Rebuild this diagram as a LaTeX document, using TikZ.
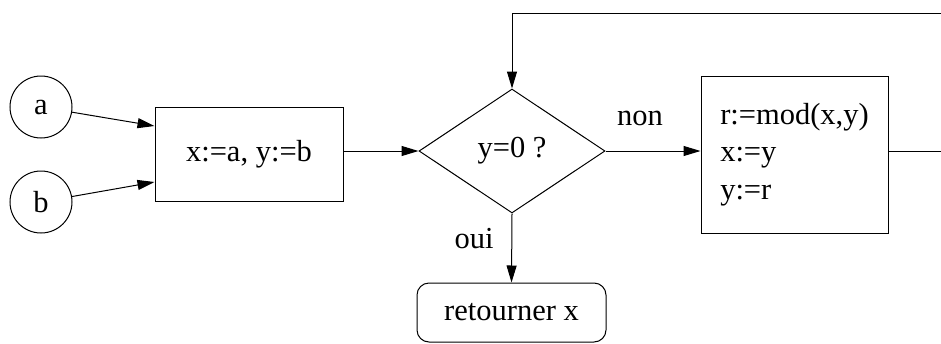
\documentclass[tikz,border=0pt]{standalone}
\usepackage{fontspec}
\setmainfont{Liberation Serif}
\newfontfamily\tnr{Liberation Serif}
\usetikzlibrary{shapes.geometric,arrows.meta}
\begin{document}
\begin{tikzpicture}[x=1pt,y=-1pt,
  every node/.style={font=\tnr\fontsize{30.5}{37.5}\selectfont, inner sep=0pt},
  line/.style={line width=1pt},
  arr/.style={line, -{Triangle[length=17pt,width=10pt]}},
  inbox/.style={draw, line width=1pt, circle, minimum size=62pt},
  procbox/.style={draw, line width=1pt, rectangle},
  testbox/.style={draw, line width=1pt, diamond, minimum width=186pt, minimum height=124pt, aspect=1.5},
  endbox/.style={draw, line width=1pt, rectangle, rounded corners=12pt}]
\useasboundingbox (0,0) rectangle (941,343);
\node[inbox] (a) at (41,107) {a};
\node[inbox] (b) at (41,202) {b};
\node[procbox, minimum width=188pt, minimum height=94pt] (init) at (249,154) {x:=a, y:=b};
\node[testbox] (test) at (512,151) {y=0 ?};
\node[procbox, minimum width=187pt, minimum height=157pt, align=left] (body) at (794.5,154.5) {r:=mod(x,y)\\x:=y\\y:=r};
\node[endbox, minimum width=189pt, minimum height=59pt] (ret) at (511.5,312.5) {retourner x};
\coordinate (c1) at (943,151);
\coordinate (c2) at (943,13);
\coordinate (c3) at (512,13);
\draw[arr] (a) -- (init.west |- 0,126);
\draw[arr] (b) -- (init.west |- 0,182);
\draw[arr] (init.east |- test.west) -- (test.west);
\draw[arr] (test.east) -- (body.west |- test.east);
\draw[arr] (test.south) -- (ret.north);
\draw[arr] (body.east |- c1) -- (c1) -- (c2) -- (c3) -- (test.north);
\node (non) at (640,118) {non};
\node (oui) at (474,239) {oui};
\end{tikzpicture}
\end{document}
